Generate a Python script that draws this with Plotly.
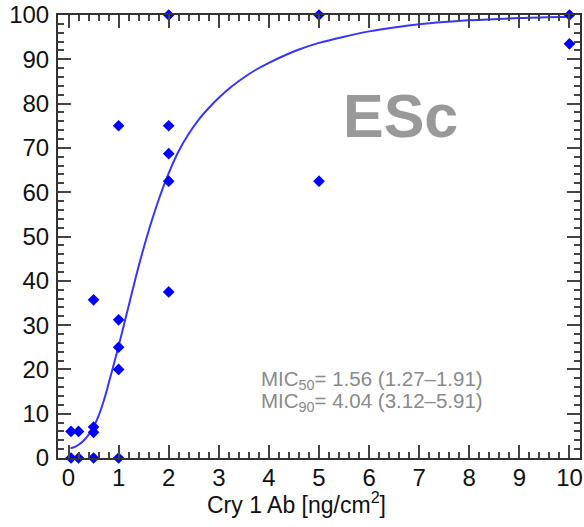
import plotly.graph_objects as go

# Observed data points (dose, mortality %)
dose = [0.05, 0.2, 0.05, 0.2, 0.5, 0.5, 0.5, 0.5,
        1, 1, 1, 1, 1,
        2, 2, 2, 2, 2,
        5, 5, 10, 10]
mortality = [0, 0, 6, 6, 0, 5.8, 7, 35.7,
             0, 20, 25, 31.2, 75,
             37.5, 62.5, 68.7, 75, 100,
             62.5, 100, 93.5, 100]

# Fitted curve
curve_x = [0.04, 0.13, 0.2, 0.3, 0.4, 0.5, 0.6, 0.7, 0.8, 0.9, 1.0, 1.1, 1.2, 1.4, 1.6, 1.8,
           2.0, 2.2, 2.4, 2.6, 2.8, 3.0, 3.25, 3.5, 3.75, 4.0, 4.3, 4.6, 5.0, 5.5,
           6.0, 6.5, 7.0, 7.5, 8.0, 9.0, 10.0]
curve_y = [2.2, 2.5, 3.0, 3.9, 5.2, 7.0, 9.5, 12.8, 16.8, 21.0, 25.3, 29.8, 34.3, 43.3, 51.3, 58.3,
           64.3, 69.3, 73.2, 76.4, 79.0, 81.3, 83.8, 85.9, 87.7, 89.2, 90.8, 92.2, 93.7, 95.1,
           96.3, 97.2, 97.9, 98.4, 98.8, 99.3, 99.6]

x_ticks = list(range(0, 11))
y_ticks = list(range(0, 101, 10))

fig = go.Figure()
fig.add_trace(go.Scatter(x=curve_x, y=curve_y, mode="lines",
                         line=dict(color="#3535ff", width=2, shape="spline", smoothing=1.0),
                         hoverinfo="skip", cliponaxis=False))
fig.add_trace(go.Scatter(x=dose, y=mortality, mode="markers",
                         marker=dict(symbol="diamond", size=9, color="#0000ff"),
                         cliponaxis=False))

axis_common = dict(showline=True, linecolor="#333333", linewidth=2, mirror="allticks",
                   ticks="inside", ticklen=13, tickwidth=1.5, tickcolor="#444444",
                   showgrid=False, zeroline=False, ticklabeloverflow="allow",
                   tickfont=dict(family="Liberation Sans, Arial", size=24, color="#111111"))

fig.update_xaxes(range=[-0.21, 10.21], tickvals=x_ticks, ticktext=[str(v) for v in x_ticks],
                 minor=dict(dtick=0.2, tick0=0, ticks="inside", ticklen=6, tickwidth=1.5,
                            tickcolor="#444444"),
                 ticklabelstandoff=-3, **axis_common)
fig.update_yaxes(range=[0, 100], tickvals=y_ticks, ticktext=[str(v) for v in y_ticks],
                 minor=dict(dtick=2, tick0=0, ticks="inside", ticklen=6, tickwidth=1.5,
                            tickcolor="#444444"),
                 ticklabelstandoff=2, **axis_common)

fig.add_annotation(text="Cry 1 Ab [ng/cm<sup>2</sup>]", xref="paper", yref="paper",
                   x=0.457, y=-0.101, showarrow=False, xanchor="center", yanchor="middle",
                   font=dict(family="Liberation Sans, Arial", size=23, color="#111111"))
fig.add_annotation(text="<b>ESc</b>", xref="paper", yref="paper",
                   x=0.657, y=0.772, showarrow=False, xanchor="center", yanchor="middle",
                   font=dict(family="Liberation Sans, Arial", size=61, color="#999999"))
fig.add_annotation(text="MIC<sub>50</sub>= 1.56 (1.27–1.91)", xref="paper", yref="paper",
                   x=0.385, y=0.176, showarrow=False, xanchor="left", yanchor="middle",
                   font=dict(family="Liberation Sans, Arial", size=20.5, color="#8a8a8a"))
fig.add_annotation(text="MIC<sub>90</sub>= 4.04 (3.12–5.91)", xref="paper", yref="paper",
                   x=0.385, y=0.126, showarrow=False, xanchor="left", yanchor="middle",
                   font=dict(family="Liberation Sans, Arial", size=20.5, color="#8a8a8a"))

fig.update_layout(width=584, height=527, margin=dict(l=58, r=1, t=12, b=69),
                  paper_bgcolor="white", plot_bgcolor="white", showlegend=False)

fig.write_html("out.html")
